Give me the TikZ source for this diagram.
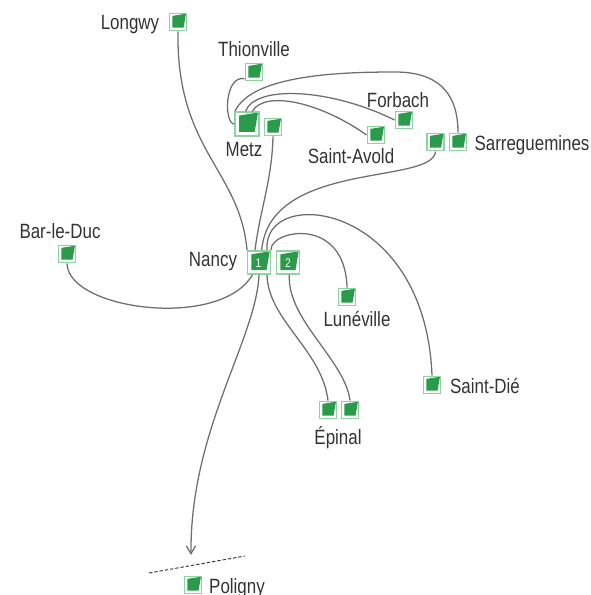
\documentclass[tikz,border=0pt]{standalone}
\usepackage{fontspec}
\setmainfont[FakeStretch=0.82]{Liberation Sans}
\definecolor{icong}{HTML}{2A9A4B}
\definecolor{iconl}{HTML}{8FD3A3}
\definecolor{linec}{HTML}{6E6E6E}
\definecolor{textc}{HTML}{333333}
\tikzset{
  icon/.style={draw=iconl,line width=1.2pt,fill=white,inner sep=0pt,minimum size=#1,text=white,font=\fontsize{10}{10}\selectfont,
    path picture={
      \fill[icong] ($(path picture bounding box.south west)!0.17!(path picture bounding box.south east)+(0,0.17*#1)$)
        -- ($(path picture bounding box.north west)+(0.17*#1,-0.15*#1)$)
        -- ($(path picture bounding box.north west)+(0.96*#1,-0.02*#1)$)
        -- ($(path picture bounding box.north west)+(0.82*#1,-0.83*#1)$) -- cycle;
    }},
  lab/.style={text=textc,font=\fontsize{15.5}{16}\selectfont,inner sep=0pt},
  num/.style={text=white,font=\fontsize{9.5}{10}\selectfont,inner sep=0pt},
  conn/.style={draw=linec,line width=0.95pt}
}
\usetikzlibrary{calc,arrows.meta}
\begin{document}
\begin{tikzpicture}[x=0.75pt,y=-0.75pt]
\useasboundingbox (0,0) rectangle (591,595);
% icons
\node[icon=13pt] (longwy) at (178,22) {};
\node[icon=13pt] (thion) at (254,72) {};
\node[icon=18pt] (metzA) at (247,124) {};
\node[icon=13pt] (metzB) at (273,127) {};
\node[icon=17.5pt] (nancyA) at (259,262.5) {};
\node[icon=17.5pt] (nancyB) at (288,262.5) {};
\node[icon=13pt] (forbach) at (404,120) {};
\node[icon=13pt] (avold) at (376,135) {};
\node[icon=13pt] (sarreA) at (435.5,142) {};
\node[icon=13pt] (sarreB) at (458,142) {};
\node[icon=13pt] (bar) at (67,254) {};
\node[icon=13pt] (lune) at (347,297) {};
\node[icon=13pt] (die) at (432,385) {};
\node[icon=13pt] (epiA) at (328,410) {};
\node[icon=13pt] (epiB) at (350,410) {};
\node[icon=13pt] (poligny) at (193,585) {};
\node[num] (n1) at (258.5,263) {1};
\node[num] (n2) at (288,263) {2};
% labels
\node[lab] (tlongwy) at (130,25) {Longwy};
\node[lab] (tthion) at (254,49) {Thionville};
\node[lab] (tmetz) at (244,149) {Metz};
\node[lab] (tforbach) at (398,100) {Forbach};
\node[lab] (tavold) at (351,156) {Saint-Avold};
\node[lab] (tsarre) at (532,145) {Sarreguemines};
\node[lab] (tbar) at (60,231) {Bar-le-Duc};
\node[lab] (tnancy) at (213,262) {Nancy};
\node[lab] (tlune) at (357,319) {Lunéville};
\node[lab] (tdie) at (485,386) {Saint-Dié};
\node[lab] (tepi) at (338,438) {Épinal};
\node[lab] (tpol) at (237,588) {Poligny};
% connectors
\draw[conn] (longwy.south) .. controls (176,150) and (240,170) .. ([xshift=-9]nancyA.north);
\draw[conn] ([yshift=-5]thion.west) .. controls (224,75) and (224,124) .. (metzA.west);
\draw[conn] ([xshift=-9]metzA.north) .. controls (252,75) and (340,72) .. (395,72) .. controls (435,72) and (458,90) .. (sarreB.north);
\draw[conn] ([xshift=-1]metzA.north) .. controls (255,85) and (330,88) .. (forbach.west);
\draw[conn] ([xshift=4]metzA.north) .. controls (265,90) and (320,102) .. (avold.west);
\draw[conn] (metzB.south) .. controls (272,180) and (260,210) .. ([xshift=-3]nancyA.north);
\draw[conn] (sarreA.south) .. controls (433,185) and (270,160) .. ([xshift=2]nancyA.north);
\draw[conn] (bar.south) .. controls (68,310) and (220,330) .. ([xshift=-5]nancyA.south);
\draw[conn] ([xshift=9]nancyA.north) .. controls (270,230) and (345,215) .. (lune.north);
\draw[conn] ([xshift=6]nancyA.north) .. controls (262,185) and (425,200) .. (die.north);
\draw[conn] ([xshift=6]nancyA.south) .. controls (268,320) and (322,350) .. (epiA.north);
\draw[conn] ([xshift=1]nancyB.south) .. controls (287,320) and (345,360) .. (epiB.north);
\draw[conn,-{Straight Barb[length=6pt,width=7pt]}] (nancyA.south) .. controls (256,340) and (190,430) .. (191,555);
\draw[draw=textc,line width=0.7pt,dash pattern=on 2.5pt off 1.5pt] (149,573) -- (245,556);
\end{tikzpicture}
\end{document}
